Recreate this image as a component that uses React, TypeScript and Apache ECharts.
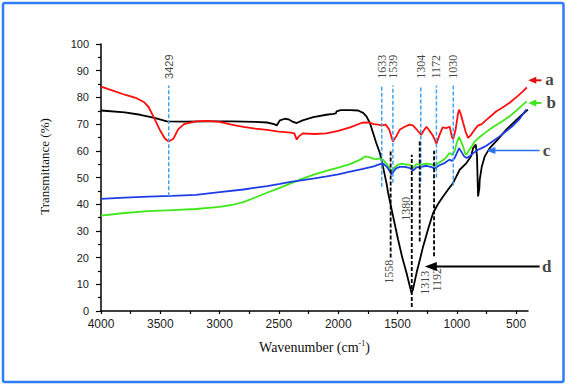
import React, { useEffect, useRef } from "react";
import * as echarts from "echarts";

// ---- Data (wavenumber cm-1, transmittance %) ----
const curveA: [number, number][] = [
  [4000, 84], [3900, 82.5], [3800, 81], [3700, 79.7], [3640, 78.3], [3600, 76.5], [3560, 73], [3500, 67.5],
  [3460, 64.5], [3429, 63.5], [3390, 64.5], [3350, 68], [3300, 70], [3200, 71], [3100, 71.2],
  [3000, 70.8], [2900, 69.8], [2800, 69], [2700, 68.3], [2600, 67.8], [2500, 67.2], [2400, 66.8],
  [2370, 66.5], [2350, 64.2], [2330, 65.5], [2300, 66.5], [2200, 66.3], [2100, 66.5], [2000, 67.5],
  [1900, 68.8], [1800, 70.5], [1740, 70.6], [1700, 70], [1660, 69.8], [1633, 69.5], [1600, 69.8],
  [1570, 68], [1539, 63.5], [1510, 65.5], [1480, 68], [1440, 69], [1400, 69.8], [1370, 69.5],
  [1330, 67.5], [1300, 66], [1280, 67.5], [1256, 69], [1230, 67.5], [1200, 65.5], [1172, 62.7],
  [1150, 65.5], [1120, 68.8], [1090, 68.5], [1060, 69], [1040, 65], [1030, 64.5], [1010, 68],
  [990, 74], [981, 75.4], [965, 73.5], [947, 70.5], [925, 67], [905, 64.8], [880, 66], [849, 68],
  [820, 69.5], [790, 70], [751, 71.6], [700, 73.5], [667, 74.8], [620, 76], [555, 78], [500, 80],
  [450, 82], [410, 83.7],
];
const curveB: [number, number][] = [
  [4000, 35.7], [3800, 36.7], [3600, 37.4], [3400, 37.8], [3200, 38.2], [3000, 39], [2900, 39.7],
  [2800, 40.8], [2700, 42.5], [2600, 44.3], [2500, 46], [2400, 47.8], [2300, 49.6], [2200, 51.2],
  [2100, 52.5], [2000, 53.7], [1900, 55], [1800, 57], [1775, 57.9], [1740, 57.6], [1700, 57],
  [1677, 56.9], [1650, 57.2], [1620, 56.5], [1590, 55], [1560, 53], [1550, 52.3], [1520, 54],
  [1495, 54.8], [1460, 55.2], [1430, 54.8], [1400, 54.8], [1370, 53.5], [1340, 55], [1300, 54.8],
  [1256, 55.2], [1220, 55], [1186, 54.4], [1150, 55.5], [1100, 57], [1062, 59.2], [1040, 58.5],
  [1019, 59.8], [1000, 63], [981, 65.2], [965, 63.5], [947, 61.6], [930, 59], [919, 58.5],
  [900, 60], [870, 62], [849, 63.5], [807, 65.2], [760, 66.8], [695, 68.9], [620, 71], [555, 72.9],
  [500, 75], [450, 77], [410, 78.5],
];
const curveC: [number, number][] = [
  [4000, 42], [3800, 42.5], [3600, 42.8], [3400, 43.1], [3200, 43.5], [3000, 44.5], [2800, 45.5],
  [2600, 46.8], [2491, 47.6], [2400, 48.4], [2200, 49.7], [2098, 50.4], [2000, 51.2], [1900, 52.2],
  [1800, 53.1], [1700, 54.2], [1649, 55], [1620, 55.2], [1590, 54], [1560, 52], [1550, 51],
  [1530, 52.5], [1509, 53.5], [1480, 54], [1440, 54], [1400, 53.6], [1369, 52.6], [1340, 53.8],
  [1300, 54], [1256, 54.4], [1220, 54], [1186, 53.4], [1150, 54.5], [1100, 55.5], [1062, 56.7],
  [1040, 56.2], [1020, 57.2], [981, 61], [960, 59.5], [940, 58], [919, 57.3], [890, 58], [850, 59.5],
  [821, 60.4], [790, 61], [751, 61.9], [700, 63.5], [639, 65.4], [580, 67.5], [527, 69.4],
  [470, 72], [415, 75.5],
];
const curveD: [number, number][] = [
  [4000, 75.1], [3800, 74.4], [3669, 73.5], [3550, 72.3], [3444, 71], [3300, 70.9], [3100, 71],
  [2900, 71], [2700, 70.8], [2600, 70.6], [2540, 70], [2519, 69.5], [2491, 71.4], [2450, 72],
  [2420, 71.8], [2380, 70.8], [2350, 70.4], [2300, 71.4], [2210, 72.6], [2100, 73.5], [2042, 73.8],
  [2020, 74], [2014, 74.8], [1980, 75.2], [1900, 75.2], [1832, 75.1], [1790, 74.2], [1762, 72.9],
  [1733, 70.4], [1706, 66.7], [1680, 63], [1649, 59.2], [1620, 53.5], [1593, 47.9], [1579, 44.2],
  [1540, 36], [1495, 26.7], [1460, 20], [1424, 14.2], [1395, 9], [1382, 6.7], [1370, 8],
  [1340, 14.2], [1310, 19.5], [1284, 24.2], [1240, 31], [1200, 36.7], [1160, 40], [1116, 42.9],
  [1070, 45.7], [1032, 47.9], [976, 52.9], [919, 55.4], [880, 58], [863, 61], [840, 62.3],
  [830, 58], [821, 42.9], [810, 46], [807, 49.2], [790, 54], [765, 57.9], [723, 61], [650, 64.5],
  [583, 67.9], [500, 71.5], [450, 73.5], [401, 75.4],
];

const seriesNames = ["a", "b", "c", "d"];
const bluePeaks = [3429, 1633, 1539, 1304, 1172, 1030];
const blackPeaks = [1558, 1380, 1313, 1192];
const xTickLabels = [4000, 3500, 3000, 2500, 2000, 1500, 1000, 500];
const yTickLabels = [0, 10, 20, 30, 40, 50, 60, 70, 80, 90, 100];

// ---- Layout / style (not data) ----
const colors = ["#ff0d0d", "#3fe81a", "#1f3de6", "#000000"];
const blueSpan: Record<number, [number, number]> = {
  3429: [43, 84.5], 1633: [46.5, 84.5], 1539: [48, 84.5], 1304: [48.5, 84.5], 1172: [50, 84.5], 1030: [47, 84.5],
};
const blueLabelY = 91.5;
const blackSpan: Record<number, [number, number]> = {
  1558: [20, 60], 1380: [1.5, 58.5], 1313: [26, 64], 1192: [20.5, 60],
};
const blackLabelPos: Record<number, [number, number]> = {
  1558: [1571, 14.7], 1380: [1430, 38.3], 1313: [1270, 10.6], 1192: [1167, 11.7],
};
// arrows: [tipX, tailX, y]
const arrowPos: Record<string, [number, number, number]> = {
  a: [398, 287, 86.4], b: [398, 287, 77.9], c: [751, 302, 60.1], d: [1270, 302, 16.7],
};
const arrowHead: Record<string, [number, number, number]> = {
  // length, half-height, line width
  a: [8, 3.5, 2], b: [8, 3.5, 2], c: [9, 3.5, 1.4], d: [12, 4.5, 2],
};
const letterPos: Record<string, [number, number]> = {
  a: [218, 86.6], b: [204, 78], c: [243, 60], d: [243, 16.6],
};
const arrowColors: Record<string, string> = { a: "#e01010", b: "#3fe81a", c: "#2a6ff0", d: "#000000" };

const SERIF = "Liberation Serif";
const SANS = "Liberation Sans";

export default function App() {
  const ref = useRef<HTMLDivElement>(null);
  useEffect(() => {
    const chart = echarts.init(ref.current!, null, { renderer: "svg" });
    const curves = [curveA, curveB, curveC, curveD];
    const series: any[] = [];
    [3, 0, 1, 2].forEach((i) => {
      series.push({
        type: "line",
        name: seriesNames[i],
        data: curves[i],
        showSymbol: false,
        symbol: "none",
        silent: true,
        lineStyle: { color: colors[i], width: 1.8 },
        z: 2,
      });
    });
    bluePeaks.forEach((p) => {
      series.push({
        type: "line",
        data: [[p, blueSpan[p][0]], [p, blueSpan[p][1]]],
        symbol: "none",
        silent: true,
        lineStyle: { color: "#3ea2f2", width: 1.5, type: [4, 2] },
        z: 3,
      });
    });
    blackPeaks.forEach((p) => {
      series.push({
        type: "line",
        data: [[p, blackSpan[p][0]], [p, blackSpan[p][1]]],
        symbol: "none",
        silent: true,
        lineStyle: { color: "#000", width: 1.8, type: [4, 2] },
        z: 3,
      });
    });
    series.push({
      type: "scatter",
      symbolSize: 0,
      silent: true,
      clip: false,
      itemStyle: { color: "rgba(0,0,0,0)" },
      data: bluePeaks.map((p) => ({
        name: String(p),
        value: [p, blueLabelY],
        label: p === 3429 ? { fontFamily: SANS, fontSize: 11 } : {},
      })),
      label: {
        show: true, position: "inside", rotate: 90, formatter: "{b}",
        fontFamily: SERIF, fontSize: 12, color: "#111",
      },
      z: 4,
    });
    series.push({
      type: "scatter",
      symbolSize: 0,
      silent: true,
      clip: false,
      itemStyle: { color: "rgba(0,0,0,0)" },
      data: blackPeaks.map((p) => ({ name: String(p), value: blackLabelPos[p] })),
      label: {
        show: true, position: "inside", rotate: 90, formatter: "{b}",
        fontFamily: SERIF, fontSize: 12, color: "#111",
      },
      z: 4,
    });
    // arrows via custom series (coordinates through the axes)
    series.push({
      type: "custom",
      silent: true,
      clip: false,
      encode: { x: [0, 1], y: 2 },
      data: seriesNames.map((n) => arrowPos[n]),
      renderItem: (params: any, api: any) => {
        const n = seriesNames[params.dataIndex];
        const [L, hh, lw] = arrowHead[n];
        const col = arrowColors[n];
        const h = api.coord([api.value(0), api.value(2)]);
        const t = api.coord([api.value(1), api.value(2)]);
        return {
          type: "group",
          children: [
            {
              type: "line",
              shape: { x1: h[0] + L - 1, y1: h[1], x2: t[0], y2: t[1] },
              style: { stroke: col, lineWidth: lw },
            },
            {
              type: "polygon",
              shape: { points: [[h[0], h[1]], [h[0] + L, h[1] - hh], [h[0] + L, h[1] + hh]] },
              style: { fill: col },
            },
          ],
        };
      },
      z: 5,
    });
    series.push({
      type: "scatter",
      symbolSize: 0,
      silent: true,
      clip: false,
      itemStyle: { color: "rgba(0,0,0,0)" },
      data: seriesNames.map((n) => ({ name: n, value: letterPos[n] })),
      label: {
        show: true, position: "inside", formatter: "{b}",
        fontFamily: SERIF, fontSize: 17, fontWeight: "bold", color: "#111",
      },
      z: 5,
    });

    const xMinor: number[] = [];
    for (let v = 500; v <= 4000; v += 250) xMinor.push(v);

    chart.setOption({
      animation: false,
      backgroundColor: "#ffffff",
      grid: { left: 101, right: 39, top: 44, bottom: 75, containLabel: false },
      xAxis: {
        type: "value",
        inverse: true,
        min: 400,
        max: 4000,
        name: "{n|Wavenumber (cm}{s|-1}{n|)}",
        nameLocation: "middle",
        nameGap: 28,
        nameTextStyle: {
          rich: {
            n: { fontFamily: SERIF, fontSize: 14, color: "#111", lineHeight: 16 },
            s: { fontFamily: SERIF, fontSize: 8, color: "#111", verticalAlign: "top", lineHeight: 10 },
          },
        },
        axisLine: { show: true, lineStyle: { color: "#000", width: 1.5 } },
        axisTick: { show: true, customValues: xMinor, length: 3, lineStyle: { color: "#000", width: 1.2 } },
        axisLabel: {
          customValues: xTickLabels, margin: 7, fontFamily: SANS, fontSize: 12, color: "#222",
          formatter: (v: number) => String(v),
        },
        splitLine: { show: false },
      },
      yAxis: {
        type: "value",
        min: 0,
        max: 100,
        interval: 10,
        name: "Transmittance (%)",
        nameLocation: "middle",
        nameGap: 50,
        nameTextStyle: { fontFamily: SERIF, fontSize: 13, color: "#111", padding: [0, 0, 0, 22] },
        axisLine: { show: true, lineStyle: { color: "#000", width: 1.5 } },
        axisTick: { show: true, length: 5, lineStyle: { color: "#000", width: 1.2 } },
        minorTick: { show: true, splitNumber: 2, length: 3, lineStyle: { color: "#000", width: 1.2 } },
        axisLabel: {
          margin: 12, fontFamily: SANS, fontSize: 11, color: "#222",
          formatter: (v: number) => (yTickLabels.includes(v) ? String(v) : ""),
        },
        splitLine: { show: false },
      },
      graphic: [
        {
          type: "rect",
          shape: { x: 3, y: 3, width: 560.5, height: 379, r: 2 },
          style: { fill: "none", stroke: "#2f7cf6", lineWidth: 2.5 },
          silent: true,
          z: 10,
        },
      ],
      series,
    });
    return () => chart.dispose();
  }, []);
  return (
    <div
      ref={ref}
      style={{ position: "fixed", left: 0, top: 0, width: 567, height: 386, background: "#fff" }}
    />
  );
}
